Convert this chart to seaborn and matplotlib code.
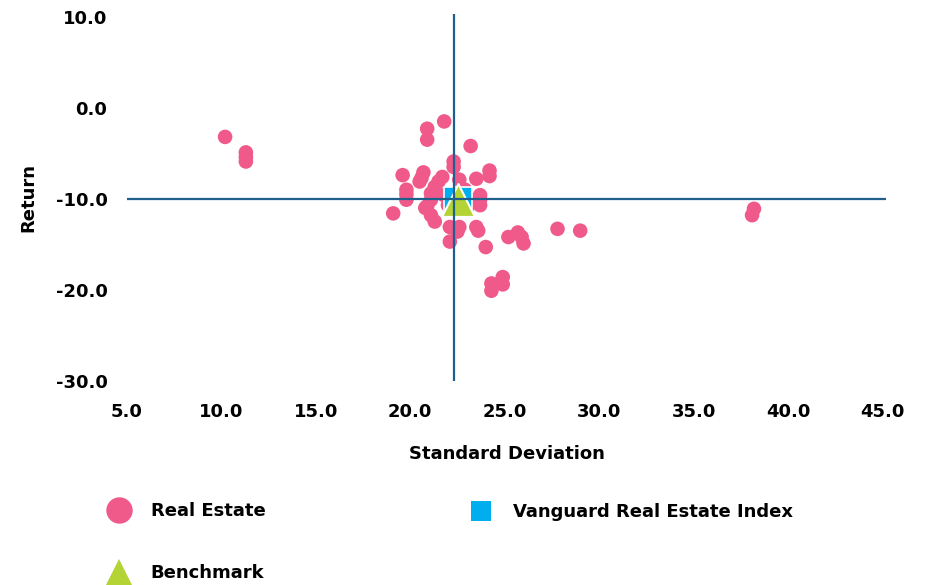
import matplotlib
matplotlib.use("Agg")
import matplotlib.pyplot as plt
import seaborn as sns
import pandas as pd
from matplotlib.lines import Line2D

# ---- data ----
re_std = [10.2, 11.3, 11.3, 11.3, 21.8, 20.9, 20.9, 23.2, 22.3, 22.3,
          19.6, 20.7, 20.6, 20.5, 21.7, 22.6, 23.5, 24.2, 24.2, 19.8,
          19.8, 19.8, 21.5, 21.3, 21.1, 21.1, 20.9, 20.8, 21.1, 21.3,
          19.1, 23.7, 23.7, 23.7, 22.1, 22.6, 22.5, 22.1, 23.5, 23.6,
          24.0, 25.2, 25.7, 25.9, 26.0, 27.8, 29.0, 38.2, 38.1, 24.9,
          24.9, 24.3, 24.3, 21.8, 22.0, 23.0, 23.2, 22.9]
re_ret = [-3.2, -4.9, -5.4, -5.9, -1.5, -2.3, -3.5, -4.2, -5.9, -6.5,
          -7.4, -7.1, -7.7, -8.1, -7.6, -7.9, -7.8, -6.9, -7.5, -9.0,
          -9.5, -10.1, -8.1, -8.7, -9.4, -10.1, -10.8, -11.0, -11.8, -12.5,
          -11.6, -9.6, -10.1, -10.7, -13.1, -13.1, -13.6, -14.7, -13.1, -13.5,
          -15.3, -14.2, -13.7, -14.2, -14.9, -13.3, -13.5, -11.1, -11.8, -18.6,
          -19.4, -19.3, -20.1, -9.6, -10.7, -11.0, -10.1, -9.0]
index_std = [22.55]
index_ret = [-10.2]
bench_std = [22.55]
bench_ret = [-10.1]
cross_x = 22.3
cross_y = -10.0
x_ticks = [5, 10, 15, 20, 25, 30, 35, 40, 45]
y_ticks = [10, 0, -10, -20, -30]
labels_left = ["Real Estate", "Benchmark"]
label_right = "Vanguard Real Estate Index"

PINK = "#EF5A8B"
CYAN = "#00AEEF"
LIME = "#B4D335"
LINE = "#1E5F8C"

sns.set_style("white")
plt.rcParams["font.family"] = ["DejaVu Sans"]
plt.rcParams["font.weight"] = "bold"
plt.rcParams["text.color"] = "black"
plt.rcParams["axes.labelcolor"] = "black"

W, H = 926, 585
fig = plt.figure(figsize=(W / 100, H / 100), dpi=100)
ax = fig.add_axes([0.137, 0.349, 0.82, 0.627])

df_re = pd.DataFrame({"std": re_std, "ret": re_ret})
df_ix = pd.DataFrame({"std": index_std, "ret": index_ret})
df_bm = pd.DataFrame({"std": bench_std, "ret": bench_ret})

sns.scatterplot(data=df_re, x="std", y="ret", ax=ax, color=PINK, s=110,
                edgecolor="none", linewidth=0, zorder=2, legend=False)
sns.scatterplot(data=df_ix, x="std", y="ret", ax=ax, color=CYAN, marker="s",
                s=430, edgecolor="white", linewidth=1.2, zorder=3, legend=False)
sns.scatterplot(data=df_bm, x="std", y="ret", ax=ax, color=LIME, marker="^",
                s=560, edgecolor="white", linewidth=1.5, zorder=4, legend=False)
ax.axvline(cross_x, color=LINE, lw=1.6, zorder=5)
ax.axhline(cross_y, color=LINE, lw=1.6, zorder=5)

ax.set_xlim(5, 45.2)
ax.set_ylim(-30, 10.3)
ax.set_xticks(x_ticks)
ax.set_xticklabels([f"{v:.1f}" for v in x_ticks])
ax.set_yticks(y_ticks)
ax.set_yticklabels([f"{v:.1f}" for v in y_ticks])
ax.tick_params(axis="both", length=0, labelsize=13, colors="black")
ax.tick_params(axis="x", pad=16)
ax.tick_params(axis="y", pad=14)
for lab in ax.get_xticklabels() + ax.get_yticklabels():
    lab.set_fontweight("bold")
ax.set_xlabel("Standard Deviation", fontsize=13, fontweight="bold", va="center")
ax.set_ylabel("Return", fontsize=13, fontweight="bold", va="center")
ax.xaxis.set_label_coords(0.5, -0.199)
ax.yaxis.set_label_coords(-0.130, 0.5)
sns.despine(ax=ax, left=True, bottom=True)

fs = 13
em = fs * 100 / 72
h_left = [
    Line2D([], [], marker="o", ls="none", color=PINK, markersize=19, markeredgewidth=0),
    Line2D([], [], marker="^", ls="none", color=LIME, markersize=19, markeredgewidth=0),
]
h_right = [Line2D([], [], marker="s", ls="none", color=CYAN, markersize=15, markeredgewidth=0)]

hl = 1.5
anchor_l = (119 - hl * em / 2) / W
anchor_r = (481 - hl * em / 2) / W
leg1 = fig.legend(h_left, labels_left, loc="center left",
                  bbox_to_anchor=(anchor_l, 1 - 542 / H), frameon=False,
                  prop={"size": fs, "weight": "bold"}, handlelength=hl,
                  handletextpad=1.0, labelspacing=2.45, borderpad=0,
                  borderaxespad=0, labelcolor="black")
leg2 = fig.legend(h_right, [label_right], loc="center left",
                  bbox_to_anchor=(anchor_r, 1 - 512 / H), frameon=False,
                  prop={"size": fs, "weight": "bold"}, handlelength=hl,
                  handletextpad=1.0, borderpad=0, borderaxespad=0,
                  labelcolor="black")

fig.savefig("out.png", dpi=100)
